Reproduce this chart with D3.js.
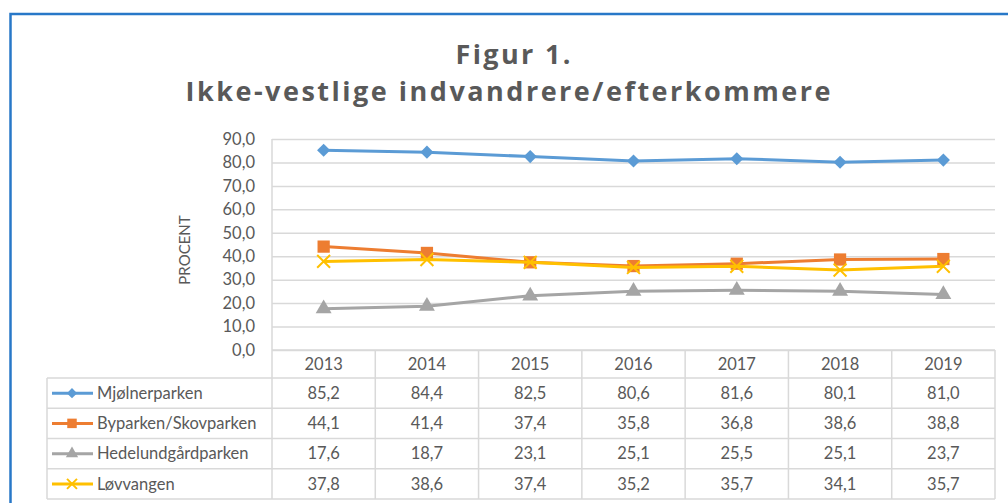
<!DOCTYPE html>
<html>
<head>
<meta charset="utf-8">
<script src="https://cdn.jsdelivr.net/npm/d3@7"></script>
<style>
  body { margin: 0; background: #fff; }
  text { font-family: Lato, "Open Sans", sans-serif; fill: #595959; }
</style>
</head>
<body>
<div id="chart"></div>
<script>
// data
var years = ["2013", "2014", "2015", "2016", "2017", "2018", "2019"];
var seriesNames = ["Mjølnerparken", "Byparken/Skovparken", "Hedelundgårdparken", "Løvvangen"];
var mjolner = [85.2, 84.4, 82.5, 80.6, 81.6, 80.1, 81.0];
var byparken = [44.1, 41.4, 37.4, 35.8, 36.8, 38.6, 38.8];
var hedelund = [17.6, 18.7, 23.1, 25.1, 25.5, 25.1, 23.7];
var lovvangen = [37.8, 38.6, 37.4, 35.2, 35.7, 34.1, 35.7];
var yTicks = [0, 10, 20, 30, 40, 50, 60, 70, 80, 90];

var colors = ["#5B9BD5", "#ED7D31", "#A5A5A5", "#FFC000"];
var series = [mjolner, byparken, hedelund, lovvangen];

var width = 1008, height = 503;
var plotLeft = 272, plotRight = 995, plotTop = 139, plotBottom = 350;
var tableLeft = 47, headBottom = 378, rowH = 30.25;

var svg = d3.select("#chart").append("svg")
    .attr("width", width)
    .attr("height", height);

// outer frame
svg.append("path")
    .attr("d", "M10.5," + (height + 5) + "V14H" + (width + 5))
    .attr("fill", "none")
    .attr("stroke", "#2878C8")
    .attr("stroke-width", 2.5);

// title
var title = svg.append("g")
    .attr("font-weight", "bold")
    .attr("text-anchor", "middle")
    .style("font-family", "'Open Sans', sans-serif");
title.append("text")
    .attr("x", 513).attr("y", 64)
    .attr("font-size", 27)
    .attr("textLength", 115)
    .attr("lengthAdjust", "spacing")
    .style("font-family", "'Open Sans', sans-serif")
    .text("Figur 1.");
title.append("text")
    .attr("x", 508).attr("y", 101)
    .attr("font-size", 27)
    .attr("textLength", 645)
    .attr("lengthAdjust", "spacing")
    .style("font-family", "'Open Sans', sans-serif")
    .text("Ikke-vestlige indvandrere/efterkommere");

var x = d3.scaleBand().domain(years).range([plotLeft, plotRight]);
var y = d3.scaleLinear().domain([0, 90]).range([plotBottom, plotTop]);

var fmt = d3.formatLocale({ decimal: ",", thousands: ".", grouping: [3], currency: ["", ""] }).format(".1f");

// y axis with gridlines
var yAxis = svg.append("g")
    .attr("transform", "translate(" + plotLeft + ",0)")
    .call(d3.axisLeft(y).tickValues(yTicks).tickSize(-(plotRight - plotLeft)).tickPadding(17).tickFormat(fmt));
yAxis.select(".domain").remove();
yAxis.selectAll("line").attr("stroke", "#D9D9D9").attr("stroke-width", 1.5);
yAxis.selectAll("text").attr("font-size", 16.5).attr("fill", "#595959").style("font-family", "Lato, sans-serif");

svg.append("line")
    .attr("x1", plotLeft).attr("x2", plotLeft)
    .attr("y1", plotTop).attr("y2", plotBottom)
    .attr("stroke", "#D9D9D9").attr("stroke-width", 1.5);

svg.append("text")
    .attr("transform", "translate(190,250) rotate(-90)")
    .attr("text-anchor", "middle")
    .attr("font-size", 15)
    .text("PROCENT");

// marker shapes
var symbols = [d3.symbolDiamond2, d3.symbolSquare, d3.symbolTriangle, d3.symbolTimes];
var symSizes = [110, 150, 110, 110];

function drawMarker(g, i, scale) {
    var p = g.append("path")
        .attr("d", d3.symbol().type(symbols[i]).size(symSizes[i] * scale)());
    if (i == 3) {
        p.attr("fill", "none").attr("stroke", colors[i]).attr("stroke-width", 2);
    } else {
        p.attr("fill", colors[i]);
    }
    return p;
}

var line = d3.line()
    .x(function(d, i) { return x(years[i]) + x.bandwidth() / 2; })
    .y(function(d) { return y(d); });

series.forEach(function(vals, i) {
    svg.append("path")
        .datum(vals)
        .attr("d", line)
        .attr("fill", "none")
        .attr("stroke", colors[i])
        .attr("stroke-width", 3);
    vals.forEach(function(v, j) {
        var g = svg.append("g")
            .attr("transform", "translate(" + (x(years[j]) + x.bandwidth() / 2) + "," + y(v) + ")");
        drawMarker(g, i, 1);
    });
});

// data table
var grid = "#D9D9D9";
var tableBottom = headBottom + rowH * 4;
var tbl = svg.append("g");

// horizontal lines
tbl.append("line").attr("x1", plotLeft).attr("x2", plotRight).attr("y1", plotBottom).attr("y2", plotBottom);
d3.range(5).forEach(function(r) {
    tbl.append("line")
        .attr("x1", tableLeft).attr("x2", plotRight)
        .attr("y1", headBottom + r * rowH).attr("y2", headBottom + r * rowH);
});
// vertical lines
tbl.append("line").attr("x1", tableLeft).attr("x2", tableLeft).attr("y1", headBottom).attr("y2", tableBottom);
years.forEach(function(yr) {
    tbl.append("line").attr("x1", x(yr)).attr("x2", x(yr)).attr("y1", plotBottom).attr("y2", tableBottom);
});
tbl.append("line").attr("x1", plotRight).attr("x2", plotRight).attr("y1", plotBottom).attr("y2", tableBottom);
tbl.selectAll("line").attr("stroke", grid).attr("stroke-width", 1.5);

// year header
tbl.selectAll(".yr").data(years).enter().append("text")
    .attr("class", "yr")
    .attr("x", function(d) { return x(d) + x.bandwidth() / 2; })
    .attr("y", (plotBottom + headBottom) / 2)
    .attr("dy", ".35em")
    .attr("text-anchor", "middle")
    .attr("font-size", 16.5)
    .text(function(d) { return d; });

seriesNames.forEach(function(name, i) {
    var cy = headBottom + rowH * i + rowH / 2;
    tbl.append("line")
        .attr("x1", 52).attr("x2", 93)
        .attr("y1", cy).attr("y2", cy)
        .attr("stroke", colors[i]).attr("stroke-width", 3);
    var g = tbl.append("g").attr("transform", "translate(72," + cy + ")");
    drawMarker(g, i, 0.6);
    tbl.append("text")
        .attr("x", 97).attr("y", cy)
        .attr("dy", ".35em")
        .attr("font-size", 16.5)
        .text(name);
    series[i].forEach(function(v, j) {
        tbl.append("text")
            .attr("x", x(years[j]) + x.bandwidth() / 2)
            .attr("y", cy)
            .attr("dy", ".35em")
            .attr("text-anchor", "middle")
            .attr("font-size", 16.5)
            .text(fmt(v));
    });
});
</script>
</body>
</html>
